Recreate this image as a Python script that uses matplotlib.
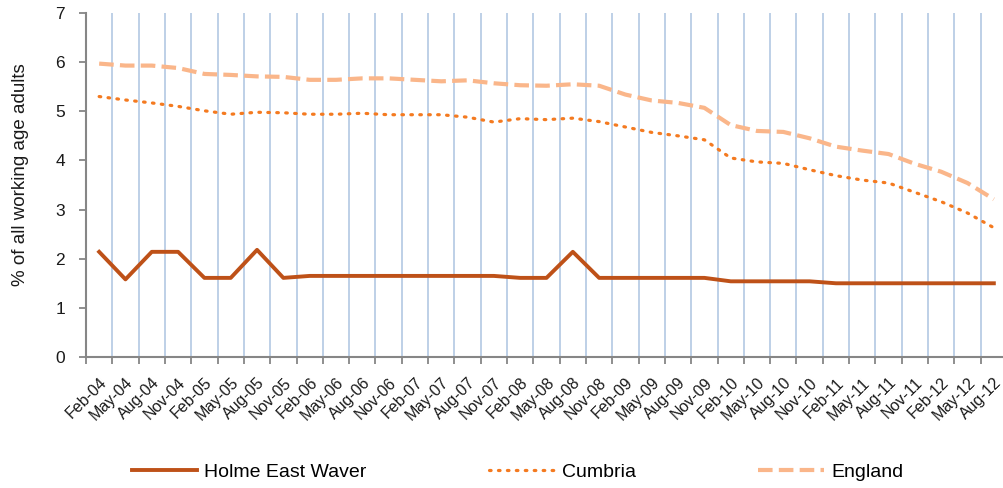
import matplotlib
matplotlib.use("Agg")
import matplotlib.pyplot as plt
import numpy as np

plt.rcParams['font.family'] = ['Liberation Sans', 'DejaVu Sans']

categories = ["Feb-04", "May-04", "Aug-04", "Nov-04", "Feb-05", "May-05", "Aug-05", "Nov-05",
              "Feb-06", "May-06", "Aug-06", "Nov-06", "Feb-07", "May-07", "Aug-07", "Nov-07",
              "Feb-08", "May-08", "Aug-08", "Nov-08", "Feb-09", "May-09", "Aug-09", "Nov-09",
              "Feb-10", "May-10", "Aug-10", "Nov-10", "Feb-11", "May-11", "Aug-11", "Nov-11",
              "Feb-12", "May-12", "Aug-12"]

holme = [2.14, 1.58, 2.14, 2.14, 1.61, 1.61, 2.18, 1.61,
         1.65, 1.65, 1.65, 1.65, 1.65, 1.65, 1.65, 1.65,
         1.61, 1.61, 2.14, 1.61, 1.61, 1.61, 1.61, 1.61,
         1.54, 1.54, 1.54, 1.54, 1.50, 1.50, 1.50, 1.50,
         1.50, 1.50, 1.50]

cumbria = [5.30, 5.23, 5.17, 5.10, 5.01, 4.94, 4.98, 4.97,
           4.94, 4.94, 4.96, 4.93, 4.93, 4.93, 4.88, 4.78,
           4.85, 4.83, 4.86, 4.79, 4.68, 4.57, 4.50, 4.42,
           4.05, 3.97, 3.94, 3.81, 3.69, 3.60, 3.54, 3.35,
           3.16, 2.93, 2.63]

england = [5.97, 5.93, 5.93, 5.88, 5.76, 5.74, 5.71, 5.70,
           5.64, 5.64, 5.67, 5.67, 5.64, 5.61, 5.63, 5.57,
           5.53, 5.52, 5.55, 5.52, 5.34, 5.22, 5.17, 5.07,
           4.72, 4.60, 4.58, 4.45, 4.28, 4.20, 4.13, 3.93,
           3.77, 3.54, 3.21]

series_names = ["Holme East Waver", "Cumbria", "England"]

W, H = 1004, 488
fig = plt.figure(figsize=(W / 100, H / 100), dpi=100)
ax = fig.add_axes([86 / W, 1 - 357 / H, (1007 - 86) / W, (357 - 13) / H])

n = len(categories)
x = np.arange(n) + 0.5

# vertical gridlines at category boundaries
for b in range(1, n):
    ax.axvline(b, color='#B9CDE5', lw=1.3, zorder=1)

ax.plot(x, england, color='#FAB68A', lw=3, ls=(0, (3.5, 1.5)), zorder=3, label=series_names[2])
ax.plot(x, cumbria, color='#F47A20', lw=2.3, ls=(0, (0.5, 2.3)), dash_capstyle='round',
        zorder=3, label=series_names[1])
ax.plot(x, holme, color='#BE5118', lw=2.8, zorder=4, label=series_names[0])

ax.set_xlim(0, n)
ax.set_ylim(0, 7)
ax.set_yticks(range(0, 8))
ax.set_xticks(np.arange(0, n + 1), minor=False)
ax.set_xticklabels([])
ax.set_xticks(x, minor=True)
ax.set_xticklabels(categories, minor=True, rotation=45, ha='right', va='top',
                   rotation_mode='anchor', fontsize=11.5, color='#1a1a1a')
ax.tick_params(axis='x', which='minor', length=0, pad=13)
ax.tick_params(axis='x', which='major', length=5, color='#868686', width=1.3)
ax.tick_params(axis='y', length=5, color='#868686', width=1.3, labelsize=12.5,
               labelcolor='#1a1a1a', pad=10)

for s in ['top', 'right']:
    ax.spines[s].set_visible(False)
for s in ['left', 'bottom']:
    ax.spines[s].set_color('#868686')
    ax.spines[s].set_linewidth(1.5)

ax.set_ylabel("% of all working age adults", fontsize=13.5, color='#1a1a1a')
ax.yaxis.set_label_coords((29 - 86) / 921, (357 - 175) / 344)

handles, labels = ax.get_legend_handles_labels()
order = [2, 1, 0]
leg = fig.legend([handles[i] for i in order], [labels[i] for i in order],
                 loc='center', bbox_to_anchor=(517.5 / W, 1 - 472 / H), ncol=3,
                 frameon=False, fontsize=14, handlelength=3.35, handletextpad=0.38,
                 columnspacing=6.3)

fig.savefig("out.png", dpi=100)
